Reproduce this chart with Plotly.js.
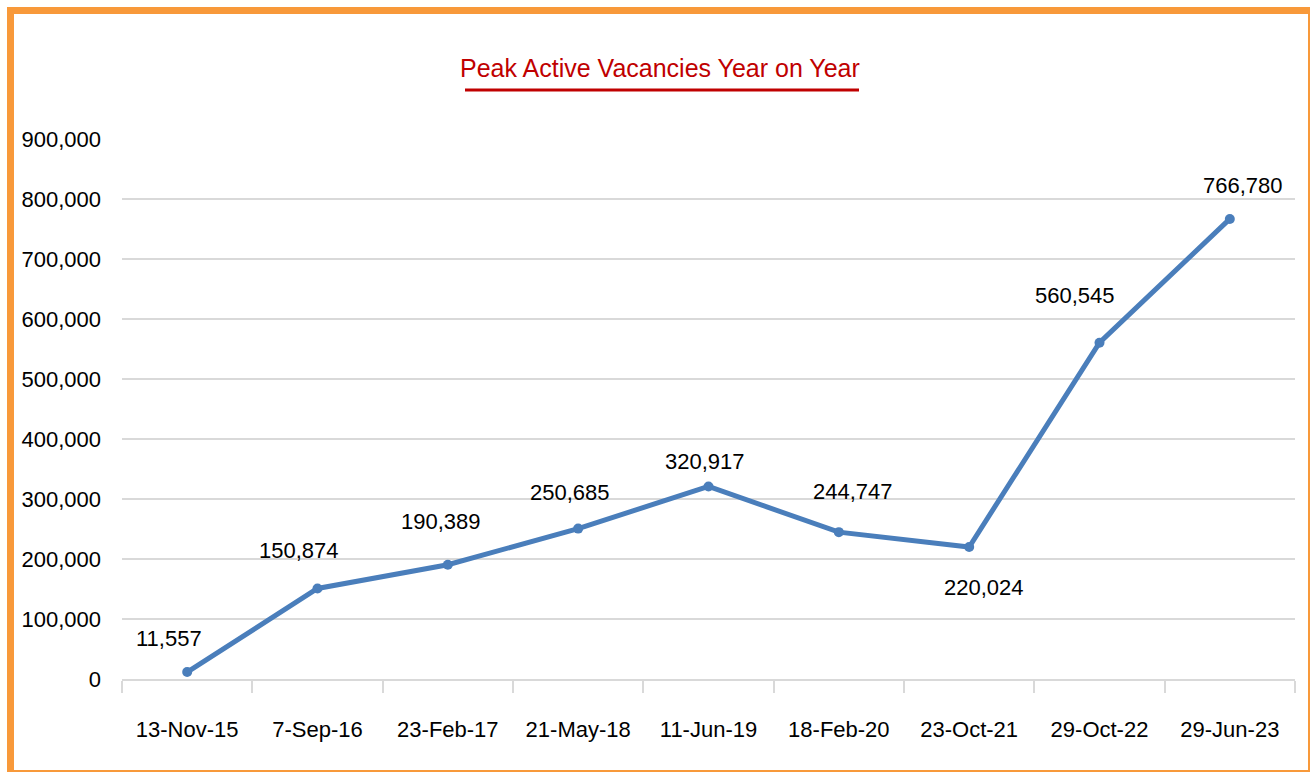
<!DOCTYPE html>
<html>
<head>
<meta charset="utf-8">
<script src="https://cdn.plot.ly/plotly-3.0.1.min.js"></script>
<style>
  html, body { margin: 0; padding: 0; background: #ffffff; }
  #wrap { position: relative; width: 1312px; height: 773px; overflow: hidden; }
  #chart { position: absolute; left: 0; top: 0; width: 1312px; height: 773px; }
  #frame { position: absolute; left: 7px; top: 7px; width: 1303px; height: 765px;
           box-sizing: border-box; border-style: solid; border-color: #F8993A;
           border-width: 7px 2px 2px 7px; pointer-events: none; }
</style>
</head>
<body>
<div id="wrap">
  <div id="chart"></div>
  <div id="frame"></div>
</div>
<script>
// ---- data ----
const categories = ["13-Nov-15", "7-Sep-16", "23-Feb-17", "21-May-18", "11-Jun-19",
                    "18-Feb-20", "23-Oct-21", "29-Oct-22", "29-Jun-23"];
const vacancies = [11557, 150874, 190389, 250685, 320917, 244747, 220024, 560545, 766780];
const yTickValues = [0, 100000, 200000, 300000, 400000, 500000, 600000, 700000, 800000, 900000];
const chartTitle = "Peak Active Vacancies Year on Year";

// ---- styling ----
const FONT = "'Liberation Sans', Arial, sans-serif";
// label offsets in pixels (dx right, dy down) relative to each point
const labelDx = [-18, -19, -7, -8, -4, 14, 15, -25, 13];
const labelDy = [-34, -38, -43, -36, -25, -41, 41, -47, -33];

const fmt = v => v.toLocaleString("en-US");

// plot-area geometry (pixels) used to place the title underline
const W = 1312, H = 773;
const M = { l: 122, r: 17, t: 139, b: 94 };
const plotW = W - M.l - M.r, plotH = H - M.t - M.b;
const px2paperX = px => (px - M.l) / plotW;
const py2paperY = py => (H - M.b - py) / plotH;

const trace = {
  type: "scatter",
  mode: "lines+markers",
  x: categories,
  y: vacancies,
  line: { color: "#4A7EBB", width: 5 },
  marker: { color: "#4A7EBB", size: 10 },
  hoverinfo: "x+y"
};

const annotations = vacancies.map((v, i) => ({
  x: categories[i], y: v, xref: "x", yref: "y",
  text: fmt(v), showarrow: false,
  xanchor: "center", yanchor: "middle",
  xshift: labelDx[i], yshift: -labelDy[i],
  font: { family: FONT, size: 22, color: "#000000" }
}));

const layout = {
  width: W, height: H,
  paper_bgcolor: "#ffffff", plot_bgcolor: "#ffffff",
  margin: M,
  showlegend: false,
  title: {
    text: chartTitle,
    font: { family: FONT, size: 25, color: "#C00000" },
    x: 0.503, xanchor: "center", xref: "container",
    y: 1 - 68 / H, yanchor: "middle", yref: "container"
  },
  shapes: [{
    type: "line", xref: "paper", yref: "paper",
    x0: px2paperX(465), x1: px2paperX(859),
    y0: py2paperY(90), y1: py2paperY(90),
    line: { color: "#C00000", width: 3 }
  }],
  xaxis: {
    type: "category",
    range: [-0.5, categories.length - 0.5],
    showgrid: false,
    showline: true, linecolor: "#D9D9D9", linewidth: 2,
    ticks: "outside", tickson: "boundaries", ticklen: 12, tickwidth: 2, tickcolor: "#D9D9D9",
    tickfont: { family: FONT, size: 22, color: "#000000" },
    tickangle: 0,
    ticklabelstandoff: 30,
    zeroline: false, fixedrange: true
  },
  yaxis: {
    range: [0, 900000],
    tickmode: "array",
    tickvals: yTickValues,
    ticktext: yTickValues.map(fmt),
    showgrid: true, gridcolor: "#D9D9D9", gridwidth: 1.5,
    zeroline: false, showline: false, ticks: "",
    tickfont: { family: FONT, size: 22, color: "#000000" },
    ticklabelstandoff: 20,
    fixedrange: true
  },
  annotations: annotations
};

Plotly.newPlot("chart", [trace], layout, { displayModeBar: false, staticPlot: true });
</script>
</body>
</html>
